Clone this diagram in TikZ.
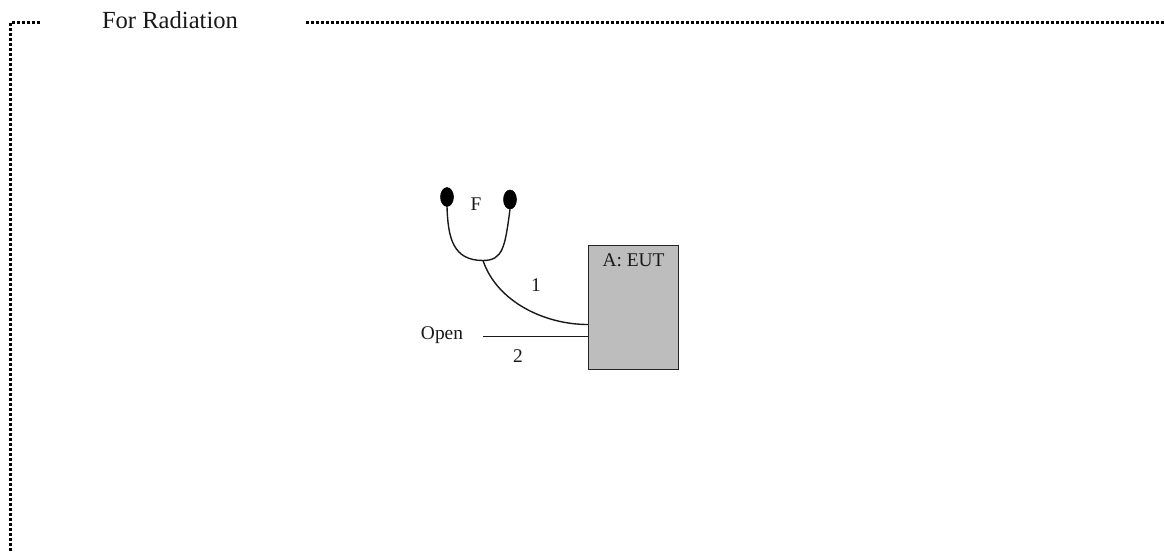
\documentclass[tikz,border=0pt]{standalone}
\usepackage{fontspec}
\setmainfont{Liberation Serif}
\usetikzlibrary{shapes.geometric}
\tikzset{
  lbl/.style={inner sep=0pt,font=\fontsize{19.4}{22}\selectfont,text=black!90},
  ttl/.style={inner sep=0pt,font=\fontsize{24.6}{28}\selectfont,text=black!90},
  frameline/.style={line width=2.4pt,black,dash pattern=on 2.6pt off 2.4pt},
  wire/.style={line width=1.4pt,black!90},
  probe/.style={ellipse,fill=black,draw=black,minimum width=13pt,minimum height=19pt,inner sep=0pt,line width=0.5pt},
  eut/.style={draw=black!85,fill=black!26,line width=1.5pt,minimum width=90pt,minimum height=124pt,inner sep=0pt}
}
\begin{document}
\begin{tikzpicture}[x=1pt,y=-1pt]
\useasboundingbox (0,0) rectangle (1164,552);
% frame
\coordinate (fb) at (10.5,555.5);
\coordinate (fc) at (10.5,22.5);
\coordinate (fe) at (40,22.5);
\coordinate (fs) at (306,22.5);
\coordinate (fr) at (1164,22.5);
\draw[frameline] (fb) -- (fc) -- (fe);
\draw[frameline] (fs) -- (fr);
\node[ttl] (title) at (170,20.5) {For Radiation};
% box
\node[eut] (box) at (633.5,307.5) {};
\node[lbl] (eutlabel) at (633.5,260) {A: EUT};
% probes
\node[probe] (pl) at (447,197) {};
\node[probe] (pr) at (510,199.5) {};
\node[lbl] (f) at (476,204.5) {F};
\coordinate (j) at (483,260.5);
\draw[wire] (pl.south) .. controls (448,238) and (453,260.5) .. (j)
            .. controls (503,260.5) and (505,247) .. (pr.south);
\coordinate (b1) at (box.west |- 0,324.5);
\draw[wire] (j) .. controls (497,302) and (545,324.5) .. (b1);
\coordinate (open) at (483,336.5);
\coordinate (b2) at (box.west |- open);
\draw[wire] (open) -- (b2);
\node[lbl] (one) at (536,285) {1};
\node[lbl] (two) at (518,356.5) {2};
\node[lbl] (openlabel) at (442,335.5) {Open};
\end{tikzpicture}
\end{document}
